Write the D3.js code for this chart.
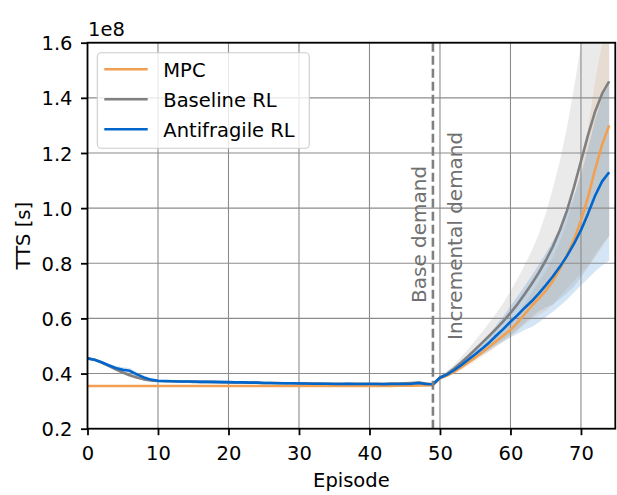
<!DOCTYPE html>
<html>
<head>
<meta charset="utf-8">
<script src="https://cdn.jsdelivr.net/npm/d3@7"></script>
<style>
  html, body { margin: 0; padding: 0; background: #fff; }
  svg { display: block; font-family: "DejaVu Sans", sans-serif; }
</style>
</head>
<body>
<svg id="chart" width="617" height="495"></svg>
<script>
// Episodes 0..74
const episodes = d3.range(75);

// Mean total time spent (TTS), in units of 1e8 s
const mpcMean = [
  0.355,0.355,0.355,0.355,0.355,0.355,0.355,0.355,0.355,0.355,
  0.355,0.355,0.355,0.355,0.355,0.355,0.355,0.355,0.355,0.355,
  0.355,0.355,0.355,0.355,0.355,0.355,0.355,0.355,0.355,0.355,
  0.355,0.355,0.355,0.355,0.355,0.355,0.355,0.355,0.355,0.355,
  0.355,0.355,0.355,0.355,0.356,0.356,0.356,0.357,0.357,0.358,
  0.383,0.393,0.406,0.422,0.440,0.458,0.477,0.497,0.518,0.538,
  0.558,0.585,0.615,0.645,0.672,0.700,0.735,0.780,0.828,0.885,
  0.955,1.040,1.140,1.230,1.300
];
const baselineMean = [
  0.455,0.450,0.440,0.428,0.415,0.404,0.394,0.386,0.379,0.375,
  0.373,0.372,0.372,0.371,0.371,0.370,0.370,0.370,0.369,0.369,
  0.368,0.368,0.368,0.367,0.367,0.366,0.366,0.366,0.365,0.365,
  0.365,0.364,0.364,0.364,0.363,0.363,0.363,0.363,0.363,0.363,
  0.363,0.363,0.363,0.364,0.364,0.365,0.366,0.367,0.364,0.361,
  0.386,0.399,0.418,0.440,0.463,0.487,0.512,0.537,0.563,0.590,
  0.620,0.652,0.688,0.725,0.765,0.810,0.860,0.920,0.990,1.075,
  1.170,1.265,1.350,1.415,1.460
];
const antifragileMean = [
  0.455,0.450,0.441,0.430,0.420,0.414,0.410,0.397,0.386,0.378,
  0.374,0.373,0.372,0.371,0.371,0.371,0.370,0.370,0.370,0.369,
  0.369,0.368,0.368,0.367,0.367,0.366,0.366,0.365,0.365,0.365,
  0.364,0.364,0.363,0.363,0.363,0.362,0.362,0.363,0.362,0.362,
  0.362,0.362,0.361,0.362,0.362,0.362,0.363,0.366,0.362,0.361,
  0.385,0.396,0.412,0.430,0.450,0.470,0.491,0.513,0.538,0.562,
  0.588,0.612,0.638,0.662,0.690,0.720,0.752,0.787,0.826,0.870,
  0.920,0.980,1.045,1.097,1.130
];

// Standard deviation around each mean (same units)
const mpcStd = [
  0.001,0.001,0.001,0.001,0.001,0.001,0.001,0.001,0.001,0.001,
  0.001,0.001,0.001,0.001,0.001,0.001,0.001,0.001,0.001,0.001,
  0.001,0.001,0.001,0.001,0.001,0.001,0.001,0.001,0.001,0.001,
  0.001,0.001,0.001,0.001,0.001,0.001,0.001,0.001,0.001,0.001,
  0.001,0.001,0.001,0.001,0.001,0.001,0.001,0.001,0.001,0.002,
  0.004,0.006,0.008,0.010,0.012,0.014,0.016,0.018,0.020,0.022,
  0.025,0.030,0.038,0.048,0.060,0.072,0.085,0.100,0.120,0.150,
  0.190,0.250,0.320,0.370,0.400
];
const baselineStd = [
  0.003,0.003,0.003,0.004,0.005,0.006,0.007,0.006,0.005,0.004,
  0.003,0.002,0.002,0.002,0.002,0.002,0.002,0.002,0.002,0.002,
  0.002,0.002,0.002,0.002,0.002,0.002,0.002,0.002,0.002,0.002,
  0.002,0.002,0.002,0.002,0.002,0.002,0.002,0.002,0.002,0.002,
  0.002,0.002,0.002,0.002,0.003,0.003,0.004,0.005,0.004,0.003,
  0.006,0.010,0.015,0.020,0.026,0.033,0.040,0.048,0.057,0.067,
  0.080,0.092,0.105,0.120,0.140,0.170,0.210,0.250,0.300,0.360,
  0.420,0.480,0.520,0.550,0.560
];
const antifragileStd = [
  0.003,0.003,0.004,0.005,0.007,0.009,0.010,0.008,0.006,0.004,
  0.003,0.002,0.002,0.002,0.002,0.002,0.002,0.002,0.002,0.002,
  0.002,0.002,0.002,0.002,0.002,0.002,0.002,0.002,0.002,0.002,
  0.002,0.002,0.002,0.002,0.002,0.002,0.002,0.002,0.002,0.002,
  0.002,0.002,0.002,0.002,0.003,0.003,0.004,0.005,0.004,0.003,
  0.005,0.007,0.009,0.012,0.015,0.019,0.024,0.030,0.038,0.047,
  0.057,0.068,0.080,0.093,0.105,0.116,0.128,0.142,0.158,0.176,
  0.200,0.235,0.275,0.305,0.320
];

const seriesNames = ["MPC", "Baseline RL", "Antifragile RL"];
const seriesColors = ["#F0A050", "#808080", "#0066CC"];
const xTicks = [0, 10, 20, 30, 40, 50, 60, 70];
const yTicks = [0.2, 0.4, 0.6, 0.8, 1.0, 1.2, 1.4, 1.6];
const demandSwitch = 49;

const series = [
  { name: seriesNames[0], color: seriesColors[0], mean: mpcMean, std: mpcStd },
  { name: seriesNames[1], color: seriesColors[1], mean: baselineMean, std: baselineStd },
  { name: seriesNames[2], color: seriesColors[2], mean: antifragileMean, std: antifragileStd }
];

const FS = 19.5;
const LW = 2.6;
const plot = { left: 87.5, right: 615.3, top: 42.7, bottom: 428.7 };

const svg = d3.select("#chart");
const x = d3.scaleLinear().domain([0, 74.87]).range([plot.left, plot.right]);
const y = d3.scaleLinear().domain([0.2, 1.6]).range([plot.bottom, plot.top]);

svg.append("defs").append("clipPath").attr("id", "plotClip")
  .append("rect")
  .attr("x", plot.left).attr("y", plot.top)
  .attr("width", plot.right - plot.left).attr("height", plot.bottom - plot.top);

const body = svg.append("g").attr("clip-path", "url(#plotClip)");
const idx = episodes.map((_, i) => i);

// shaded ±std bands
series.forEach(s => {
  const band = d3.area()
    .x(i => x(episodes[i]))
    .y0(i => y(s.mean[i] - s.std[i]))
    .y1(i => y(s.mean[i] + s.std[i]));
  body.append("path")
    .attr("d", band(idx))
    .attr("fill", s.color)
    .attr("fill-opacity", 0.17)
    .attr("stroke", "none");
});

// grid
const grid = body.append("g");
xTicks.forEach(t => {
  grid.append("line")
    .attr("x1", x(t)).attr("x2", x(t))
    .attr("y1", plot.top).attr("y2", plot.bottom)
    .attr("stroke", "#8c8c8c").attr("stroke-width", 1.1);
});
yTicks.forEach(t => {
  grid.append("line")
    .attr("x1", plot.left).attr("x2", plot.right)
    .attr("y1", y(t)).attr("y2", y(t))
    .attr("stroke", "#8c8c8c").attr("stroke-width", 1.1);
});

// mean lines
series.forEach(s => {
  const line = d3.line()
    .x(i => x(episodes[i]))
    .y(i => y(s.mean[i]));
  body.append("path")
    .attr("d", line(idx))
    .attr("fill", "none")
    .attr("stroke", s.color)
    .attr("stroke-width", LW)
    .attr("stroke-linejoin", "round")
    .attr("stroke-linecap", "butt");
});

// demand switch marker
body.append("line")
  .attr("x1", x(demandSwitch)).attr("x2", x(demandSwitch))
  .attr("y1", plot.top).attr("y2", plot.bottom)
  .attr("stroke", "#808080").attr("stroke-width", 2.6)
  .attr("stroke-dasharray", "9,4");

svg.append("text")
  .attr("transform", `translate(${x(demandSwitch) - 6.5},${303}) rotate(-90)`)
  .attr("font-size", 20)
  .attr("fill", "#707070")
  .text("Base demand");
svg.append("text")
  .attr("transform", `translate(${x(demandSwitch) + 29.5},${340}) rotate(-90)`)
  .attr("font-size", 20)
  .attr("fill", "#707070")
  .text("Incremental demand");

// spines
svg.append("rect")
  .attr("x", plot.left).attr("y", plot.top)
  .attr("width", plot.right - plot.left).attr("height", plot.bottom - plot.top)
  .attr("fill", "none").attr("stroke", "#000").attr("stroke-width", 1.8);

// axes
const xAxis = svg.append("g")
  .attr("transform", `translate(0,${plot.bottom})`)
  .call(d3.axisBottom(x).tickValues(xTicks).tickSize(6.5).tickPadding(10).tickFormat(d3.format("d")));
const yAxis = svg.append("g")
  .attr("transform", `translate(${plot.left},0)`)
  .call(d3.axisLeft(y).tickValues(yTicks).tickSize(6.5).tickPadding(8.5).tickFormat(d3.format(".1f")));

[xAxis, yAxis].forEach(g => {
  g.select(".domain").remove();
  g.selectAll(".tick line").attr("stroke", "#000").attr("stroke-width", 1.8);
  g.selectAll(".tick text")
    .attr("font-size", FS)
    .attr("font-family", "DejaVu Sans, sans-serif")
    .attr("fill", "#000");
});
xAxis.selectAll(".tick text").attr("dy", "0.74em");
yAxis.selectAll(".tick text").attr("dy", "0.36em");

// offset text and axis titles
svg.append("text")
  .attr("x", 88).attr("y", 36)
  .attr("font-size", FS)
  .text("1e8");

svg.append("text")
  .attr("x", (plot.left + plot.right) / 2).attr("y", 487)
  .attr("text-anchor", "middle")
  .attr("font-size", FS)
  .text("Episode");

svg.append("text")
  .attr("transform", `translate(30,${(plot.top + plot.bottom) / 2}) rotate(-90)`)
  .attr("text-anchor", "middle")
  .attr("font-size", FS)
  .text("TTS [s]");

// legend
const legend = svg.append("g");
legend.append("rect")
  .attr("x", 97.3).attr("y", 52.7)
  .attr("width", 212).attr("height", 95.6)
  .attr("rx", 4).attr("ry", 4)
  .attr("fill", "#fff").attr("fill-opacity", 0.8)
  .attr("stroke", "#cccccc").attr("stroke-width", 1.1);

series.forEach((s, i) => {
  const ly = 69.3 + i * 30;
  legend.append("line")
    .attr("x1", 104.3).attr("x2", 147.7)
    .attr("y1", ly).attr("y2", ly)
    .attr("stroke", s.color).attr("stroke-width", LW);
  legend.append("text")
    .attr("x", 163.3).attr("y", ly + 7.8)
    .attr("font-size", FS)
    .text(s.name);
});
</script>
</body>
</html>
